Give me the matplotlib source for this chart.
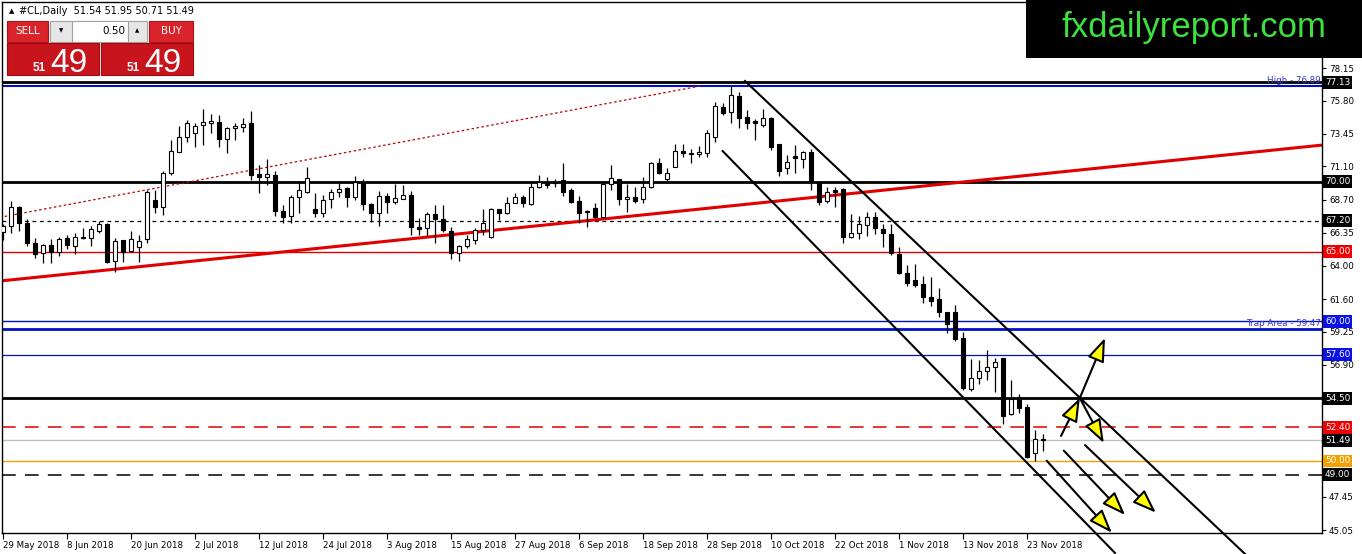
import matplotlib
matplotlib.use("Agg")
import matplotlib.pyplot as plt
from matplotlib import transforms
from matplotlib.patches import Rectangle

# daily candles, 29 May 2018 .. 27 Nov 2018
opens = [66.43, 66.83, 68.22, 67.03, 65.60, 64.87, 65.45, 65.00, 65.97, 65.43,
         66.04, 65.95, 66.50, 66.98, 64.35, 65.83, 65.07, 65.30, 65.88, 68.70,
         68.17, 70.60, 72.16, 73.23, 73.47, 74.07, 74.20, 74.26, 73.10, 73.83,
         73.95, 74.19, 70.55, 70.32, 70.48, 67.93, 67.55, 68.93, 69.29, 68.02,
         67.74, 68.74, 69.29, 69.53, 68.93, 70.00, 68.38, 67.78, 68.98, 68.57,
         68.79, 69.05, 66.73, 66.66, 67.69, 67.35, 66.50, 64.92, 65.40, 65.83,
         66.54, 66.02, 68.02, 67.78, 68.50, 68.93, 68.41, 69.65, 69.98, 69.94,
         70.13, 69.41, 68.62, 67.90, 68.10, 67.50, 69.82, 70.17, 68.74, 68.88,
         68.74, 69.65, 71.32, 70.22, 71.08, 72.23, 72.04, 71.97, 72.08, 73.23,
         75.33, 75.02, 76.14, 74.62, 74.35, 74.07, 74.60, 72.71, 70.96, 71.84,
         71.60, 72.11, 70.01, 68.60, 69.41, 69.46, 66.07, 66.30, 66.90, 67.45,
         66.60, 66.26, 64.83, 63.44, 62.96, 62.68, 61.77, 61.58, 60.70, 60.65,
         58.79, 55.13, 55.92, 56.47, 56.71, 57.35, 53.36, 54.56, 53.89, 50.55,
         51.54]
highs = [67.00, 68.65, 68.27, 67.33, 65.95, 65.55, 65.88, 66.02, 66.19, 66.31,
         66.67, 66.83, 67.19, 67.07, 65.99, 65.83, 66.50, 66.19, 69.41, 69.41,
         70.77, 73.00, 74.00, 74.43, 74.19, 75.19, 74.85, 74.78, 73.95, 74.19,
         74.55, 75.05, 71.20, 71.60, 70.79, 68.33, 69.05, 70.08, 71.03, 69.22,
         69.05, 69.46, 69.89, 69.65, 70.41, 70.17, 68.50, 69.36, 69.22, 69.84,
         69.77, 69.36, 67.38, 67.86, 68.31, 68.31, 66.73, 65.47, 66.19, 66.66,
         68.02, 68.10, 68.02, 68.89, 69.17, 69.05, 69.89, 70.49, 70.32, 70.17,
         71.32, 69.53, 68.98, 67.98, 68.46, 69.89, 71.18, 70.22, 69.84, 69.65,
         70.37, 71.44, 71.68, 70.96, 72.71, 72.71, 72.32, 72.56, 73.71, 75.74,
         75.62, 76.89, 76.46, 75.14, 74.47, 75.19, 74.66, 72.71, 71.92, 72.63,
         72.23, 72.32, 70.01, 69.65, 69.60, 69.53, 67.69, 67.55, 67.86, 67.86,
         66.98, 66.98, 65.35, 64.04, 64.11, 63.25, 63.20, 62.37, 60.70, 61.20,
         59.26, 57.28, 57.23, 57.95, 57.35, 57.40, 55.80, 54.80, 54.08, 52.22,
         51.95]
lows = [65.83, 66.31, 66.50, 65.43, 64.52, 64.16, 64.20, 64.71, 65.19, 64.83,
        65.88, 65.43, 66.31, 64.21, 63.56, 64.28, 64.99, 64.28, 65.64, 67.74,
        67.62, 70.49, 72.16, 72.87, 72.52, 72.63, 73.47, 72.52, 72.09, 73.00,
        73.59, 70.13, 69.17, 69.77, 67.55, 67.02, 67.02, 67.74, 69.17, 67.50,
        67.50, 68.10, 68.88, 68.21, 68.69, 67.98, 67.14, 66.83, 67.79, 68.40,
        68.74, 66.19, 66.19, 66.11, 65.64, 66.42, 64.44, 64.35, 65.23, 65.54,
        66.19, 65.95, 67.26, 67.69, 68.45, 68.22, 68.34, 69.53, 69.53, 69.65,
        68.98, 68.46, 67.02, 66.79, 67.38, 67.38, 69.41, 68.34, 67.86, 68.46,
        68.46, 69.53, 70.56, 70.08, 71.08, 71.80, 71.37, 71.75, 71.80, 72.87,
        74.79, 74.23, 73.83, 73.76, 72.99, 73.95, 72.28, 70.41, 70.56, 70.61,
        70.96, 69.41, 68.34, 68.50, 68.17, 65.64, 65.95, 65.88, 66.12, 66.26,
        65.30, 64.75, 63.39, 62.53, 62.48, 61.30, 61.10, 60.34, 59.19, 58.60,
        55.08, 55.04, 55.51, 55.80, 54.97, 52.65, 53.29, 53.46, 50.19, 50.02,
        50.71]
closes = [66.83, 68.17, 67.03, 65.64, 64.80, 65.45, 64.95, 65.88, 65.50, 66.02,
          66.00, 66.60, 66.98, 64.28, 65.74, 65.00, 65.88, 65.74, 69.25, 68.17,
          70.60, 72.23, 73.18, 74.19, 74.00, 74.26, 74.35, 73.10, 73.83, 74.00,
          74.14, 70.49, 70.32, 70.55, 67.93, 67.50, 68.88, 69.41, 70.24, 67.74,
          68.69, 69.24, 69.46, 68.93, 70.00, 68.38, 67.78, 68.98, 68.57, 68.81,
          69.03, 66.73, 66.59, 67.69, 67.35, 66.54, 64.87, 65.40, 65.88, 66.54,
          67.02, 68.02, 67.78, 68.45, 68.88, 68.46, 69.65, 69.98, 69.77, 69.90,
          69.29, 68.57, 67.79, 67.81, 67.45, 69.82, 70.25, 68.74, 68.88, 68.65,
          69.65, 71.37, 70.65, 70.65, 72.23, 72.04, 71.99, 72.16, 73.47, 75.43,
          74.95, 76.22, 74.60, 74.23, 74.23, 74.60, 72.52, 70.80, 71.44, 71.68,
          72.11, 70.01, 68.58, 69.29, 69.29, 66.02, 66.30, 66.95, 67.50, 66.67,
          66.31, 64.92, 63.44, 62.77, 62.60, 61.72, 61.48, 60.70, 59.81, 58.71,
          55.20, 55.92, 56.44, 56.76, 57.07, 53.22, 54.42, 53.77, 50.31, 51.55,
          51.49]

date_bars = [0, 8, 16, 24, 32, 40, 48, 56, 64, 72, 80, 88, 96, 104, 112, 120, 128]
date_labels = ["29 May 2018", "8 Jun 2018", "20 Jun 2018", "2 Jul 2018", "12 Jul 2018",
               "24 Jul 2018", "3 Aug 2018", "15 Aug 2018", "27 Aug 2018", "6 Sep 2018",
               "18 Sep 2018", "28 Sep 2018", "10 Oct 2018", "22 Oct 2018", "1 Nov 2018",
               "13 Nov 2018", "23 Nov 2018"]

price_ticks = [78.15, 75.80, 73.45, 71.10, 68.70, 66.35, 64.00, 61.60, 59.25, 56.90, 47.45, 45.05]

# horizontal levels and their tags on the price scale
tag_values = [77.13, 70.00, 67.20, 65.00, 60.00, 57.60, 54.50, 52.40, 51.49, 50.00, 49.00]
tag_colors = ["black", "black", "black", "#f00000", "#0a10e8", "#0a10e8", "black",
              "#f00000", "black", "#f5a000", "black"]
high_level = 76.89
trap_level = 59.47

# trend lines as (bar, price) pairs
red_trend = [(-0.4, 62.89), (164.9, 72.63)]
red_dotted = [(-0.4, 67.45), (87.5, 76.90)]
channel_upper = [(92.75, 77.22), (155.25, 43.34)]
channel_lower = [(89.96, 72.20), (139.0, 43.41)]

# arrows: (start bar, start price, end bar, end price)
arrows = [(132.25, 51.79, 134.6, 54.51),
          (134.6, 54.51, 137.75, 58.81),
          (134.6, 54.51, 137.6, 51.29),
          (130.46, 50.02, 138.6, 44.86),
          (132.6, 50.74, 140.25, 46.13),
          (135.25, 51.14, 144.1, 46.30)]

W, H = 1362, 554
fig = plt.figure(figsize=(W / 100, H / 100), dpi=100)
fig.patch.set_facecolor("white")

# plot area: x 2..1322 px, y 2..533 px
ax = fig.add_axes([2 / W, 21 / H, 1320 / W, 531 / H])
ax.set_zorder(1)
ax.set_xlim(-0.125, 164.875)
ax.set_ylim(44.84, 82.88)
for s in ax.spines.values():
    s.set_linewidth(1)
    s.set_color("black")

# levels
ax.axhline(77.13, color="black", lw=2.0, zorder=2)
ax.axhline(high_level, color="#0010c0", lw=1.5, zorder=2)
ax.axhline(70.00, color="black", lw=2.0, zorder=2)
ax.axhline(67.20, color="black", lw=0.9, ls=(0, (3, 3)), zorder=2)
ax.axhline(65.00, color="#e00000", lw=1.0, zorder=2)
ax.axhline(60.00, color="#0010c8", lw=1.0, zorder=2)
ax.axhline(trap_level, color="#0010c8", lw=2.0, zorder=2)
ax.axhline(57.60, color="#0010c8", lw=0.9, zorder=2)
ax.axhline(54.50, color="black", lw=2.0, zorder=2)
ax.axhline(52.40, color="#e00000", lw=1.1, ls=(0, (9, 6)), zorder=2)
ax.axhline(51.49, color="#c0c0c0", lw=1.0, zorder=2)
ax.axhline(50.00, color="#f5a000", lw=1.0, zorder=2)
ax.axhline(49.00, color="black", lw=1.1, ls=(0, (9, 6)), zorder=2)

ax.text(164.7, high_level + 0.05, "High - 76.89", color="#3838d0", fontsize=6.3,
        ha="right", va="bottom", zorder=3)
ax.text(164.7, trap_level + 0.05, "Trap Area - 59.47", color="#3838d0", fontsize=6.3,
        ha="right", va="bottom", zorder=3)

# trend lines
ax.plot([p[0] for p in red_trend], [p[1] for p in red_trend], color="#e00000", lw=2.2, zorder=2)
ax.plot([p[0] for p in red_dotted], [p[1] for p in red_dotted], color="#c00000",
        lw=0.9, ls=(0, (2, 2)), zorder=2)
ax.plot([p[0] for p in channel_upper], [p[1] for p in channel_upper], color="black",
        lw=1.5, zorder=5, clip_on=False)
ax.plot([p[0] for p in channel_lower], [p[1] for p in channel_lower], color="black",
        lw=1.5, zorder=5, clip_on=False)

# candles
bars = list(range(len(opens)))
ax.vlines(bars, lows, highs, color="black", lw=0.9, zorder=3)
bottoms = [min(o, c) for o, c in zip(opens, closes)]
heights = [max(abs(c - o), 0.05) for o, c in zip(opens, closes)]
faces = ["white" if c >= o else "black" for o, c in zip(opens, closes)]
ax.bar(bars, heights, width=0.6, bottom=bottoms, color=faces, edgecolor="black",
       linewidth=0.8, zorder=4)

# arrows
for x0, y0, x1, y1 in arrows:
    ax.annotate("", xy=(x1, y1), xytext=(x0, y0), annotation_clip=False, zorder=6,
                arrowprops=dict(arrowstyle="-|>,head_length=0.6,head_width=0.22",
                                mutation_scale=24, fc="#ffff00", ec="black", lw=1.5,
                                shrinkA=0, shrinkB=0))

# axes ticks
ax.yaxis.tick_right()
ax.set_yticks(price_ticks)
ax.set_yticklabels([f"{v:.2f}" for v in price_ticks])
ax.tick_params(axis="y", direction="out", length=3, width=0.8, labelsize=6.3, pad=2)
ax.set_xticks(date_bars)
ax.set_xticklabels(date_labels, ha="left")
ax.tick_params(axis="x", direction="out", length=4, width=0.8, labelsize=6.2, pad=2)

tr = transforms.blended_transform_factory(ax.transAxes, ax.transData)
for v, col in zip(tag_values, tag_colors):
    ax.text(1.0022, v, f"{v:.2f}", transform=tr, color="white", fontsize=6.4,
            ha="left", va="center", zorder=7, clip_on=False,
            bbox=dict(boxstyle="square,pad=0.22", fc=col, ec="none"))

# overlay in pixel coordinates for the header panel and logo
ov = fig.add_axes([0, 0, 1, 1])
ov.set_zorder(3)
ov.patch.set_alpha(0)
ov.set_xlim(0, W)
ov.set_ylim(H, 0)
ov.axis("off")

ov.text(9, 11, "\u25b2", fontsize=5, va="center", ha="left")
ov.text(19, 11, "#CL,Daily  51.54 51.95 50.71 51.49", fontsize=7, va="center", ha="left")

ov.add_patch(Rectangle((7, 21), 41, 21, fc="#d8242a", ec="#b01018", lw=0.8))
ov.text(27.5, 31.5, "SELL", color="white", fontsize=7.5, ha="center", va="center")
ov.add_patch(Rectangle((50, 21), 97, 21, fc="#e6e6e6", ec="#a0a0a0", lw=0.8))
ov.add_patch(Rectangle((72, 21), 56, 21, fc="white", ec="#a0a0a0", lw=0.8))
ov.text(61, 31, "\u25bc", fontsize=4, ha="center", va="center")
ov.text(137.5, 31, "\u25b2", fontsize=4, ha="center", va="center")
ov.text(125, 31.5, "0.50", fontsize=7.5, ha="right", va="center")
ov.add_patch(Rectangle((149, 21), 44, 21, fc="#d8242a", ec="#b01018", lw=0.8))
ov.text(171, 31.5, "BUY", color="white", fontsize=7.5, ha="center", va="center")
for x0 in (7, 101):
    ov.add_patch(Rectangle((x0, 43), 92, 32, fc="#c8141c", ec="#a00810", lw=0.8))
    ov.text(x0 + 39, 71, "51", color="white", fontsize=8.5, fontweight="bold",
            ha="right", va="baseline", family="Liberation Sans")
    ov.text(x0 + 43, 72, "49", color="white", fontsize=24, ha="left", va="baseline",
            family="Liberation Sans")

ov.add_patch(Rectangle((1026, 0), W - 1026, 58, fc="black", ec="none"))
ov.text(1194, 27, "fxdailyreport.com", color="#3ee03e", fontsize=25,
        ha="center", va="center", family="Liberation Sans")

fig.savefig("out.png", dpi=100)
